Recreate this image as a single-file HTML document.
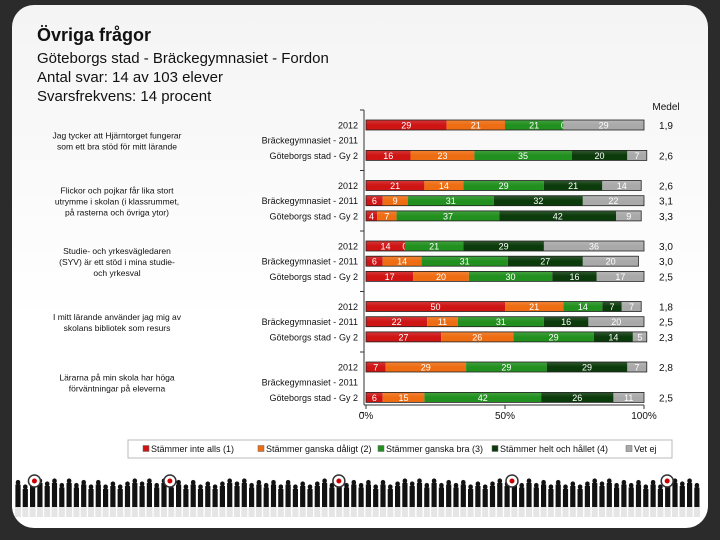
<!DOCTYPE html>
<html><head><meta charset="utf-8">
<style>
html,body{margin:0;padding:0;background:#2b2b2b;}
#wrap{position:relative;width:720px;height:540px;overflow:hidden;background:#2b2b2b;font-family:"Liberation Sans",sans-serif;}
#card{position:absolute;left:12px;top:5px;width:696px;height:523px;background:linear-gradient(#f4f4f4,#fff 60%);border-radius:22px;}
.t{position:absolute;color:#111;}
</style></head><body>
<div id="wrap">
<div id="card"></div>
<div class="t" style="left:37px;top:25px;font-size:18px;font-weight:bold">Övriga frågor</div>
<div class="t" style="left:37px;top:49px;font-size:15px;line-height:19px">Göteborgs stad - Bräckegymnasiet - Fordon<br>Antal svar: 14 av 103 elever<br>Svarsfrekvens: 14 procent</div>
<svg id="chart" width="720" height="540" style="position:absolute;left:0;top:0"></svg>
</div>
<script>
const questions=["Jag tycker att Hjärntorget fungerar|som ett bra stöd för mitt lärande","Flickor och pojkar får lika stort|utrymme i skolan (i klassrummet,|på rasterna och övriga ytor)","Studie- och yrkesvägledaren|(SYV) är ett stöd i mina studie-|och yrkesval","I mitt lärande använder jag mig av|skolans bibliotek som resurs","Lärarna på min skola har höga|förväntningar på eleverna"];
const groups=["2012","Bräckegymnasiet - 2011","Göteborgs stad - Gy 2"];
const s1=[[29,null,16],[21,6,4],[14,6,17],[50,22,27],[7,null,6]];
const s2=[[21,null,23],[14,9,7],[0,14,20],[21,11,26],[29,null,15]];
const s3=[[21,null,35],[29,31,37],[21,31,30],[14,31,29],[29,null,42]];
const s4=[[0,null,20],[21,32,42],[29,27,16],[7,16,14],[29,null,26]];
const s5=[[29,null,7],[14,22,9],[36,20,17],[7,20,5],[7,null,11]];
const means=[["1,9","","2,6"],["2,6","3,1","3,3"],["3,0","3,0","2,5"],["1,8","2,5","2,3"],["2,8","","2,5"]];
const seriesNames=["Stämmer inte alls (1)","Stämmer ganska dåligt (2)","Stämmer ganska bra (3)","Stämmer helt och hållet (4)","Vet ej"];
const xTicks=[0,50,100];
const colors=["#cf1414","#ee6d12","#22901f","#0b3a0b","#a9a9a9"];
const NS="http://www.w3.org/2000/svg";
const svg=document.getElementById('chart');
const X0=366,X1=644;
const xs=v=>X0+(X1-X0)*v/100;
const rowY=(q,g)=>125+q*60.5+g*15.2;
function el(t,a,p){const e=document.createElementNS(NS,t);for(const k in a)e.setAttribute(k,a[k]);(p||svg).appendChild(e);return e;}
const defs=el('defs',{});
colors.forEach((c,i)=>{const g=el('linearGradient',{id:'g'+i,x1:0,y1:0,x2:0,y2:1},defs);el('stop',{offset:0,'stop-color':c,'stop-opacity':0.85},g);el('stop',{offset:0.5,'stop-color':c},g);el('stop',{offset:1,'stop-color':c},g);});
const ax=el('line',{x1:364,y1:110,x2:364,y2:405,stroke:'#333','stroke-width':1});

for(let q=0;q<=5;q++){const y=110+q*60.5;el('line',{x1:360,y1:y,x2:364,y2:y,stroke:'#333'});}
const xa=el('line',{x1:364,y1:405,x2:644,y2:405,stroke:'#333'});

xTicks.forEach(v=>{el('line',{x1:xs(v),y1:405,x2:xs(v),y2:409,stroke:'#333'});
 const t=el('text',{x:xs(v),y:419,'font-size':10,'text-anchor':'middle',fill:'#111'});t.textContent=v+'%';
 });
const mh=el('text',{x:666,y:110,'font-size':10,'text-anchor':'middle',fill:'#111'});mh.textContent='Medel';

const series=[s1,s2,s3,s4,s5];
questions.forEach((qt,q)=>{
 const lines=qt.split('|');
 lines.forEach((ln,i)=>{const t=el('text',{x:117,y:rowY(q,1)+4-(lines.length-1)*5.5+i*11,'font-size':8.5,'text-anchor':'middle',fill:'#111'});t.textContent=ln;
  });
 groups.forEach((g,gi)=>{
  const y=rowY(q,gi);
  const gl=el('text',{x:358,y:y+3.5,'font-size':9,'text-anchor':'end',fill:'#111'});gl.textContent=g;
  
  if(s1[q][gi]==null)return;
  let cum=0;
  series.forEach((s,si)=>{const v=s[q][gi];const xa=xs(cum),xb=xs(cum+v);
   const r=el('rect',{x:xa,y:y-5,width:Math.max(0,xb-xa),height:10,fill:'url(#g'+si+')'});
   
   const t=el('text',{x:(xa+xb)/2,y:y+3.5,'font-size':9,'text-anchor':'middle',fill:'#fff'});t.textContent=v;
   
   cum+=v;});
  el('rect',{x:xs(0),y:y-5,width:xs(cum)-xs(0),height:10,fill:'none',stroke:'#222','stroke-width':0.8});
  const m=el('text',{x:666,y:y+4,'font-size':10,'text-anchor':'middle',fill:'#111'});m.textContent=means[q][gi];
  
 });
});
const lg=el('rect',{x:128,y:440,width:544,height:18,fill:'#fff',stroke:'#bbb'});

const lx=[143,258,378,492,626];
seriesNames.forEach((n,i)=>{el('rect',{x:lx[i],y:445.5,width:6,height:6,fill:colors[i],stroke:'#666','stroke-width':0.5});
 const t=el('text',{x:lx[i]+8,y:452,'font-size':9,fill:'#111'});t.textContent=n;
 });
const deco=el('g',{});
for(let x=18;x<700;x+=7.3){const k=Math.floor(x)%5;const h=24+k*1.5;
 el('ellipse',{cx:x,cy:511-h,rx:2.3,ry:2.6,fill:'#111'},deco);
 el('rect',{x:x-2.6,y:513-h,width:5.2,height:h-6,fill:'#111'},deco);
 el('rect',{x:x-3,y:507,width:6,height:10,fill:'#ccc',opacity:0.5},deco);}
[75,370,738,1115,1453].forEach(p=>{const cx=p*720/1568;el('circle',{cx:cx,cy:481,r:6,fill:'#fff',stroke:'#333','stroke-width':1.5},deco);el('circle',{cx:cx,cy:481,r:2.5,fill:'#c00'},deco);});
</script>
</body></html>
